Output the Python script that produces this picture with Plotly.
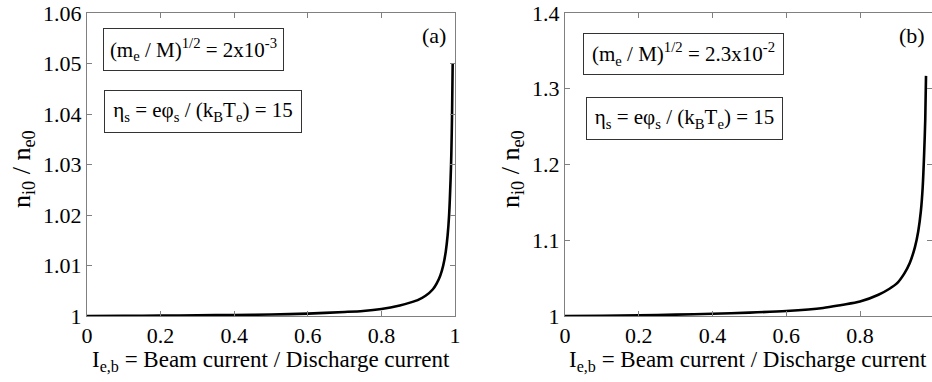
import plotly.graph_objects as go

# ---- data ----
ratio_a = [0, 0.1, 0.2, 0.3, 0.4, 0.5, 0.6, 0.7, 0.75, 0.8, 0.85, 0.88, 0.9, 0.92,
           0.94, 0.95, 0.96, 0.968, 0.975, 0.98, 0.984, 0.988, 0.99, 0.992, 0.9937]
density_a = [1.0, 1.00003, 1.00007, 1.00013, 1.0002, 1.0003, 1.00048, 1.0008, 1.0010,
             1.0014, 1.0021, 1.0027, 1.0032, 1.0040, 1.0053, 1.0064, 1.0080, 1.0100,
             1.0128, 1.0160, 1.0200, 1.0270, 1.0320, 1.0400, 1.0500]

ratio_b = [0, 0.1, 0.2, 0.3, 0.4, 0.5, 0.6, 0.7, 0.75, 0.8, 0.85, 0.88, 0.9, 0.92,
           0.935, 0.949, 0.958, 0.965, 0.97, 0.974, 0.977, 0.979]
density_b = [1.0, 1.0004, 1.0010, 1.0018, 1.0030, 1.0045, 1.0066, 1.0105, 1.0145,
             1.019, 1.028, 1.036, 1.043, 1.056, 1.070, 1.091, 1.112, 1.138, 1.17,
             1.215, 1.26, 1.317]

x_ticks = [0, 0.2, 0.4, 0.6, 0.8, 1]
y_ticks_a = [1, 1.01, 1.02, 1.03, 1.04, 1.05, 1.06]
y_ticks_b = [1, 1.1, 1.2, 1.3, 1.4]

W, H = 932, 382
FONT = "Liberation Serif, Times New Roman, serif"
AXC = "#808080"

fig = go.Figure()
fig.add_trace(go.Scatter(x=ratio_a, y=density_a, mode="lines", xaxis="x", yaxis="y",
                         line=dict(color="black", width=2.6, shape="spline", smoothing=0.8),
                         showlegend=False, hoverinfo="skip"))
fig.add_trace(go.Scatter(x=ratio_b, y=density_b, mode="lines", xaxis="x2", yaxis="y2",
                         line=dict(color="black", width=2.6, shape="spline", smoothing=0.8),
                         showlegend=False, hoverinfo="skip"))

def px(x):
    return x / W

def py(y):
    return 1 - y / H

common = dict(showline=True, linecolor=AXC, linewidth=1, mirror="ticks", ticks="inside",
              ticklen=5, tickcolor=AXC, tickwidth=1, showgrid=False, zeroline=False,
              tickfont=dict(family=FONT, size=22, color="black"), automargin=False)

fig.update_layout(
    width=W, height=H,
    margin=dict(l=0, r=0, t=0, b=0),
    paper_bgcolor="white", plot_bgcolor="white",
    xaxis=dict(domain=[px(87), px(455)], range=[0, 1], tickvals=x_ticks,
               ticktext=[f"{v:g}" for v in x_ticks], anchor="y", **common),
    yaxis=dict(domain=[py(316), py(13)], range=[1, 1.06], tickvals=y_ticks_a,
               ticktext=[f"{v:g}" for v in y_ticks_a], anchor="x", **common),
    xaxis2=dict(domain=[px(565), px(932)], range=[0, 367 / 368.75], tickvals=x_ticks,
                ticktext=[f"{v:g}" for v in x_ticks], anchor="y2", **common),
    yaxis2=dict(domain=[py(316), py(13)], range=[1, 1.4], tickvals=y_ticks_b,
                ticktext=[f"{v:g}" for v in y_ticks_b], anchor="x2", **common),
)

ann = []
def box(text, x0, x1, y0, y1):
    ann.append(dict(text=text, xref="paper", yref="paper", x=px(x0), y=py(y0),
                    xanchor="left", yanchor="top", showarrow=False,
                    width=x1 - x0 - 12, height=y1 - y0 - 12, borderpad=5,
                    bordercolor="#333333", borderwidth=1, bgcolor="white",
                    align="center", valign="middle",
                    font=dict(family=FONT, size=21, color="black")))

box("(m<sub>e</sub> / M)<sup>1/2</sup> = 2x10<sup>-3</sup>", 103, 284, 28, 71)
box("η<sub>s</sub> = eφ<sub>s</sub> / (k<sub>B</sub>T<sub>e</sub>) = 15", 104, 302, 90, 133)
box("(m<sub>e</sub> / M)<sup>1/2</sup> = 2.3x10<sup>-2</sup>", 583, 784, 33, 75)
box("η<sub>s</sub> = eφ<sub>s</sub> / (k<sub>B</sub>T<sub>e</sub>) = 15", 586, 783, 97, 140)

for lab, cx in (("(a)", 434), ("(b)", 912)):
    ann.append(dict(text=lab, xref="paper", yref="paper", x=px(cx), y=py(36),
                    xanchor="center", yanchor="middle", showarrow=False,
                    font=dict(family=FONT, size=22, color="black")))

xtitle = "I<sub>e,b</sub> = Beam current / Discharge current"
for cx in (271, 748):
    ann.append(dict(text=xtitle, xref="paper", yref="paper", x=px(cx), y=py(345),
                    xanchor="center", yanchor="top", showarrow=False,
                    font=dict(family=FONT, size=23, color="black")))

ytitle = "n<sub>i0</sub> / n<sub>e0</sub>"
for cx in (23, 512):
    ann.append(dict(text=ytitle, xref="paper", yref="paper", x=px(cx), y=py(169),
                    xanchor="center", yanchor="middle", showarrow=False, textangle=-90,
                    font=dict(family=FONT, size=26, color="black")))

fig.update_layout(annotations=ann)
fig.write_html("out.html")
